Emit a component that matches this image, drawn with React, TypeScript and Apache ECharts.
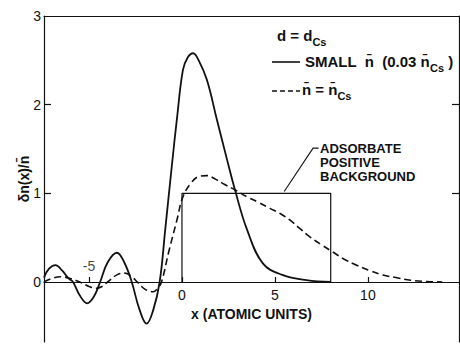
import React, { useEffect, useRef } from "react";
import * as echarts from "echarts";

// Solid curve: small n̄ (0.03 n̄Cs)
const solidCurve: [number, number][] = [
  [-7.42, 0.05], [-7.15, 0.15], [-6.8, 0.19], [-6.45, 0.13], [-6.1, 0.04], [-5.86, 0.0],
  [-5.5, -0.15], [-5.1, -0.24], [-4.75, -0.17], [-4.4, 0.0], [-4.0, 0.22], [-3.5, 0.33],
  [-3.1, 0.22], [-2.7, 0.0], [-2.3, -0.3], [-1.9, -0.47], [-1.55, -0.32], [-1.2, 0.0],
  [-0.9, 0.59], [-0.55, 1.3], [-0.25, 1.88], [0.05, 2.39], [0.3, 2.53], [0.6, 2.58],
  [0.9, 2.5], [1.34, 2.28], [1.88, 1.83], [2.4, 1.4], [2.85, 1.04], [3.5, 0.59],
  [4.35, 0.21], [5.4, 0.08], [6.7, 0.02], [8.0, 0.0],
];

// Dashed curve: n̄ = n̄Cs
const dashedCurve: [number, number][] = [
  [-7.42, 0.0], [-7.0, 0.04], [-6.55, 0.06], [-6.0, 0.04], [-5.5, 0.0], [-5.0, -0.05],
  [-4.6, -0.07], [-4.3, -0.05], [-4.0, 0.0], [-3.5, 0.08], [-3.06, 0.1], [-2.7, 0.06],
  [-2.4, 0.0], [-2.0, -0.08], [-1.55, -0.11], [-1.3, -0.07], [-1.1, 0.0], [-0.7, 0.35],
  [-0.27, 0.7], [0.05, 0.96], [0.5, 1.12], [0.9, 1.19], [1.34, 1.2], [1.8, 1.16],
  [2.3, 1.1], [2.85, 1.04], [3.5, 0.96], [4.1, 0.9], [4.73, 0.83], [5.3, 0.77],
  [5.8, 0.7], [6.3, 0.61], [6.88, 0.51], [7.5, 0.42], [8.1, 0.34], [8.7, 0.26],
  [9.4, 0.19], [10.1, 0.13], [10.8, 0.08], [11.5, 0.05], [12.3, 0.02], [13.2, 0.005],
  [14.0, 0.0],
];

// Adsorbate positive background box
const backgroundBox: [number, number][] = [[0, 0], [0, 1], [8, 1], [8, 0]];
const leaderLine: [number, number][] = [[5.5, 1.02], [7.05, 1.51], [7.35, 1.51]];
const negLabelPoint: [number, number][] = [[-5, 0]];

const yLabelValues = [0, 1, 2, 3];
const yTickValues = [1, 2];
const xLabelValues = [0, 5, 10];
const xTickValues = [-5, 0, 5, 10];

const X_MIN = -7.42;
const X_MAX = 14.9;
const Y_MIN = -0.6767;
const Y_MAX = 3;

const FONT = "'Liberation Sans', Arial, sans-serif";
const INK = "#111";

export default function App() {
  const ref = useRef<HTMLDivElement>(null);
  useEffect(() => {
    if (!ref.current) return;
    const chart = echarts.init(ref.current, null, { renderer: "svg" });
    const axisLine = { show: true, onZero: false, lineStyle: { color: INK, width: 1.2 } };
    const sub = { fontSize: 11, fontWeight: "bold", verticalAlign: "top", padding: [8, 0, 0, 0], fontFamily: FONT, fill: INK, color: INK };
    const richStyles = {
      m: { fontSize: 14, fontWeight: "bold", verticalAlign: "top", fontFamily: FONT, fill: INK, color: INK },
      b: { fontSize: 15, fontWeight: "bold", verticalAlign: "top", fontFamily: FONT, fill: INK, color: INK },
      s: sub,
    };
    chart.setOption({
      animation: false,
      backgroundColor: "#fff",
      textStyle: { fontFamily: FONT, color: INK },
      grid: [
        // full plotting frame (extends below zero)
        { left: 44, right: 1, top: 16, bottom: 5, containLabel: false, outerBoundsMode: "none" },
        // frame whose bottom edge is the y = 0 line, carrying the x axis
        { left: 44, right: 1, top: 16, bottom: 65, containLabel: false, outerBoundsMode: "none" },
      ],
      xAxis: [
        {
          gridIndex: 0,
          type: "value",
          position: "top",
          min: X_MIN,
          max: X_MAX,
          axisLine,
          axisTick: { show: false },
          axisLabel: { show: false },
          splitLine: { show: false },
        },
        {
          gridIndex: 1,
          type: "value",
          position: "bottom",
          min: X_MIN,
          max: X_MAX,
          axisLine,
          axisTick: { show: true, inside: true, length: 5, customValues: xTickValues, lineStyle: { color: INK, width: 1.2 } },
          axisLabel: { show: true, customValues: xLabelValues, margin: 6, fontSize: 14, color: INK, fontFamily: FONT },
          splitLine: { show: false },
          name: "x (ATOMIC UNITS)",
          nameLocation: "middle",
          nameGap: 24,
          nameTextStyle: { fontSize: 14, color: INK, fontFamily: FONT, fontWeight: "bold" },
        },
      ],
      yAxis: [
        {
          gridIndex: 0,
          type: "value",
          min: Y_MIN,
          max: Y_MAX,
          axisLine,
          axisTick: { show: true, inside: true, length: 7, customValues: yTickValues, lineStyle: { color: INK, width: 1.2 } },
          axisLabel: { show: true, customValues: yLabelValues, margin: 3, fontSize: 14, color: INK, fontFamily: FONT },
          splitLine: { show: false },
          name: "δn(x)/n\u0304",
          nameLocation: "middle",
          nameGap: 13,
          nameMoveOverlap: false,
          nameTextStyle: { fontSize: 14, color: INK, fontFamily: FONT, fontWeight: "bold" },
        },
        {
          gridIndex: 0,
          type: "value",
          position: "right",
          min: Y_MIN,
          max: Y_MAX,
          axisLine,
          axisTick: { show: true, inside: true, length: 7, customValues: yTickValues, lineStyle: { color: INK, width: 1.2 } },
          axisLabel: { show: false },
          splitLine: { show: false },
        },
        {
          gridIndex: 1,
          type: "value",
          min: 0,
          max: Y_MAX,
          show: false,
          splitLine: { show: false },
        },
      ],
      series: [
        {
          type: "line",
          xAxisIndex: 0,
          yAxisIndex: 0,
          data: solidCurve,
          smooth: 0.4,
          showSymbol: false,
          lineStyle: { color: INK, width: 1.8 },
          z: 3,
        },
        {
          type: "line",
          xAxisIndex: 0,
          yAxisIndex: 0,
          data: dashedCurve,
          smooth: 0.4,
          showSymbol: false,
          lineStyle: { color: INK, width: 1.6, type: [7, 4] },
          z: 3,
        },
        {
          type: "line",
          xAxisIndex: 0,
          yAxisIndex: 0,
          data: backgroundBox,
          showSymbol: false,
          lineStyle: { color: INK, width: 1.2 },
          z: 2,
        },
        {
          type: "line",
          xAxisIndex: 0,
          yAxisIndex: 0,
          data: leaderLine,
          showSymbol: false,
          lineStyle: { color: INK, width: 1.1 },
          z: 2,
        },
        {
          type: "scatter",
          xAxisIndex: 0,
          yAxisIndex: 0,
          data: negLabelPoint,
          symbolSize: 0,
          label: {
            show: true,
            position: "top",
            distance: 9,
            formatter: "-5",
            fontSize: 14,
            color: INK,
            fontFamily: FONT,
          },
        },
      ],
      graphic: [
        {
          type: "text",
          left: 277,
          top: 28,
          style: { text: "{b|d = d}{s|Cs}", rich: richStyles },
        },
        {
          type: "line",
          shape: { x1: 272, y1: 62, x2: 300, y2: 62 },
          style: { stroke: INK, lineWidth: 1.6 },
        },
        {
          type: "text",
          left: 305,
          top: 54,
          style: { text: "{b|SMALL  n\u0304  (0.03 n\u0304}{s|Cs}{b| )}", rich: richStyles },
        },
        {
          type: "line",
          shape: { x1: 272, y1: 91, x2: 300, y2: 91 },
          style: { stroke: INK, lineWidth: 1.5, lineDash: [5, 3] },
        },
        {
          type: "text",
          left: 302,
          top: 82,
          style: { text: "{b|n\u0304 = n\u0304}{s|Cs}", rich: richStyles },
        },
        {
          type: "text",
          left: 320,
          top: 141,
          style: {
            text: "ADSORBATE\nPOSITIVE\nBACKGROUND",
            fontSize: 13,
            lineHeight: 14,
            fontWeight: "bold",
            fontFamily: FONT,
            fill: INK,
          },
        },
      ],
    });
    return () => chart.dispose();
  }, []);
  return <div ref={ref} style={{ width: 460, height: 347, position: "absolute", left: 0, top: 0 }} />;
}
